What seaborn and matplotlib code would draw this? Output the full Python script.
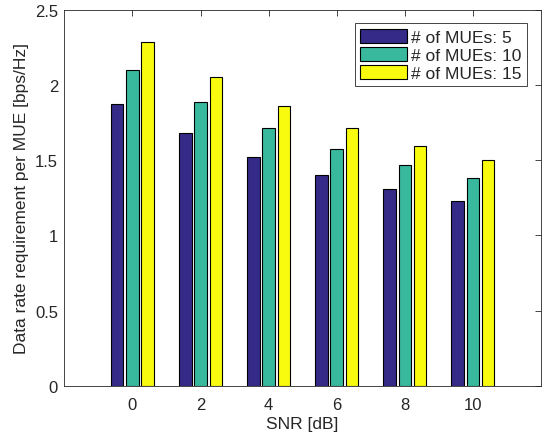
import pandas as pd
import numpy as np
import matplotlib
matplotlib.use('Agg')
import matplotlib.pyplot as plt
import seaborn as sns

# Data
snr = [0, 2, 4, 6, 8, 10]
mue_5 = [1.87, 1.68, 1.52, 1.40, 1.31, 1.23]
mue_10 = [2.10, 1.885, 1.71, 1.575, 1.467, 1.383]
mue_15 = [2.285, 2.05, 1.86, 1.715, 1.597, 1.503]
labels = ['# of MUEs: 5', '# of MUEs: 10', '# of MUEs: 15']
colors = ['#352A87', '#38B99E', '#F9FB0E']

df = pd.DataFrame({
    'SNR': snr * 3,
    'rate': mue_5 + mue_10 + mue_15,
    'group': [labels[0]] * 6 + [labels[1]] * 6 + [labels[2]] * 6,
})

sns.set_style('white')
plt.rcParams['font.family'] = ['Liberation Sans', 'DejaVu Sans']

fig = plt.figure(figsize=(5.45, 4.35), dpi=100)
ax = fig.add_axes([0.118, 0.1103, 0.8747, 0.8655])

# grouped bars, MATLAB-like layout
sns.barplot(data=df, x='SNR', y='rate', hue='group', palette=colors,
            native_scale=True, width=0.672, gap=0.18, edgecolor='black',
            linewidth=0.8, ax=ax, errorbar=None, saturation=1)

ax.set_xlim(-2, 12)
ax.set_ylim(0, 2.5)
ax.set_xticks(snr)
ax.set_xticklabels([str(s) for s in snr])
ax.set_yticks([0, 0.5, 1, 1.5, 2, 2.5])
ax.set_yticklabels(['0', '0.5', '1', '1.5', '2', '2.5'])
ax.set_xlabel('SNR [dB]', fontsize=12.5, color='#262626', labelpad=3)
ax.set_ylabel('Data rate requirement per MUE [bps/Hz]', fontsize=12.5,
              color='#262626', labelpad=4)
ax.tick_params(direction='in', top=True, right=True, length=4, width=0.6,
               labelsize=12, colors='#262626')
ax.tick_params(axis='x', pad=8)
ax.tick_params(axis='y', pad=4.5)
for sp in ax.spines.values():
    sp.set_color('#262626')
    sp.set_linewidth(0.6)

leg = ax.legend(loc='upper right', fontsize=12.5, frameon=True, fancybox=False,
                edgecolor='#262626', framealpha=1, borderpad=0.3,
                handlelength=2.7, handleheight=0.87, handletextpad=0.25,
                labelspacing=0.12, borderaxespad=0.8)
leg.get_frame().set_linewidth(0.6)

fig.savefig('out.png', dpi=100)
